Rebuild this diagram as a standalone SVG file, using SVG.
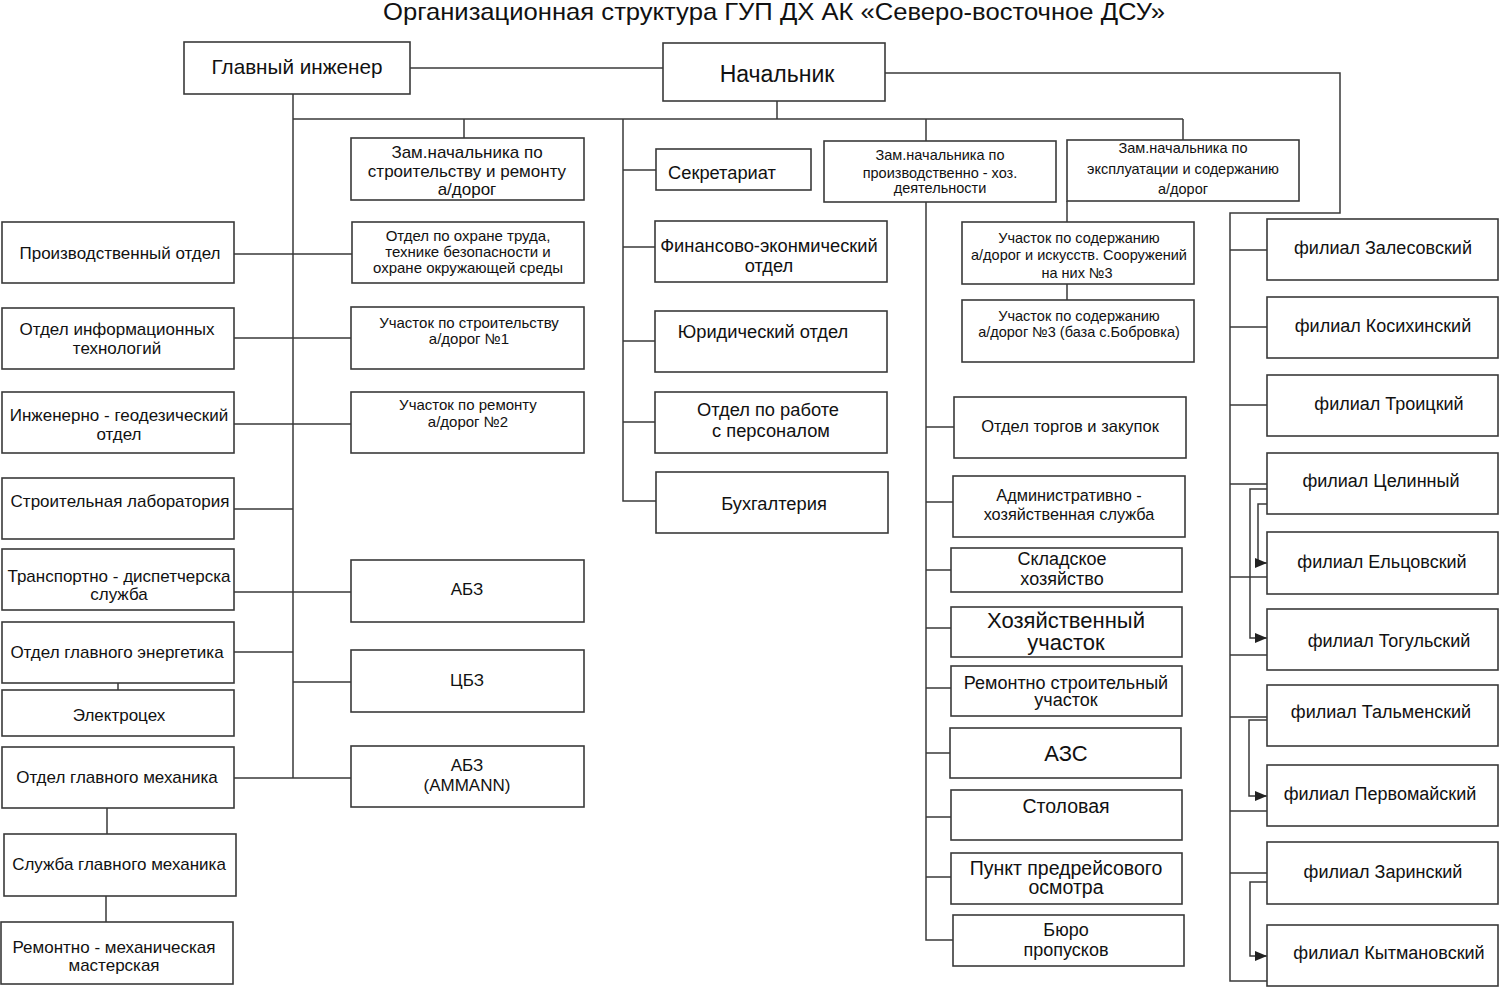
<svg xmlns="http://www.w3.org/2000/svg" width="1500" height="987" viewBox="0 0 1500 987">
<defs>
<style>
.box{fill:#fff;stroke:#3a3a3a;stroke-width:1.6}
.ln{fill:none;stroke:#3a3a3a;stroke-width:1.5}
text{font-family:"Liberation Sans",Arial,sans-serif;fill:#111;text-anchor:middle}
.f145{font-size:14.5px}.f15{font-size:15px}.f163{font-size:16.3px}.f165{font-size:16.5px}
.f17{font-size:17px}.f18{font-size:18px}.f183{font-size:18.3px}.f195{font-size:19.5px}.f22{font-size:22px}
</style>
<marker id="arr" viewBox="0 0 12 10" refX="12" refY="5" markerWidth="12" markerHeight="10" markerUnits="userSpaceOnUse" orient="auto">
<path d="M0,0 L12,5 L0,10 z" fill="#222"/>
</marker>
</defs>
<rect width="1500" height="987" fill="#fff"/>
<text x="774" y="20" style="font-size:24px" textLength="782" lengthAdjust="spacingAndGlyphs">Организационная структура ГУП ДХ АК «Северо-восточное ДСУ»</text>

<g id="connectors">
<path class="ln" d="M410,68 H663"/>
<path class="ln" d="M885,73 H1340 V213 H1230 V981 H1267"/>
<path class="ln" d="M1230,250 H1267 M1230,327 H1267 M1230,405 H1267 M1230,484 H1267 M1230,577 H1267 M1230,655 H1267 M1230,717 H1267 M1230,811 H1267 M1230,873 H1267"/>
<path class="ln" d="M1267,489 H1250 V638 H1267" marker-end="url(#arr)"/>
<path class="ln" d="M1267,504 H1258 V563 H1267" marker-end="url(#arr)"/>
<path class="ln" d="M1267,720 H1249 V796 H1267" marker-end="url(#arr)"/>
<path class="ln" d="M1267,882 H1250 V956 H1267" marker-end="url(#arr)"/>
<path class="ln" d="M777,101 V119 M293,119 H1183 M293,94 V778"/>
<path class="ln" d="M464,119 V138 M926,119 V141 M1183,119 V140"/>
<path class="ln" d="M623,119 V501 H656 M623,170 H656 M623,247 H655 M623,341 H655 M623,422 H655"/>
<path class="ln" d="M926,202 V940 H953 M926,427 H954 M926,502 H953 M926,570 H951 M926,628 H951 M926,688 H951 M926,753 H950 M926,817 H951 M926,877 H951"/>
<path class="ln" d="M1067,201 V222 M1067,284 V300"/>
<path class="ln" d="M234,254 H352 M234,338 H351 M234,424 H351 M234,592 H351 M234,778 H351 M234,509 H293 M234,652 H293 M293,682 H351"/>
<path class="ln" d="M118,683 V690 M107,808 V834 M106,896 V922"/>
</g>

<g id="n_gi"><rect class="box" x="184" y="42" width="226" height="52"/><text style="font-size:20.7px" x="297" y="74">Главный инженер</text></g>
<g id="n_nach"><rect class="box" x="663" y="43" width="222" height="58"/><text style="font-size:23px" x="777" y="82">Начальник</text></g>

<g id="n_zam_str"><rect class="box" x="351" y="138" width="233" height="62"/><text class="f17"><tspan x="467" y="158">Зам.начальника по</tspan><tspan x="467" y="177">строительству и ремонту</tspan><tspan x="467" y="195">а/дорог</tspan></text></g>
<g id="n_ohrana"><rect class="box" x="352" y="222" width="232" height="61"/><text class="f15"><tspan x="468" y="241">Отдел по охране труда,</tspan><tspan x="468" y="257">технике безопасности и</tspan><tspan x="468" y="273">охране окружающей среды</tspan></text></g>
<g id="n_uch1"><rect class="box" x="351" y="307" width="233" height="62"/><text class="f15"><tspan x="469" y="328">Участок по строительству</tspan><tspan x="469" y="344">а/дорог №1</tspan></text></g>
<g id="n_uch2"><rect class="box" x="351" y="392" width="233" height="61"/><text class="f15"><tspan x="468" y="410">Участок по ремонту</tspan><tspan x="468" y="427">а/дорог №2</tspan></text></g>
<g id="n_abz"><rect class="box" x="351" y="560" width="233" height="62"/><text class="f17" x="467" y="595">АБЗ</text></g>
<g id="n_cbz"><rect class="box" x="351" y="650" width="233" height="62"/><text class="f17" x="467" y="686">ЦБЗ</text></g>
<g id="n_abz2"><rect class="box" x="351" y="746" width="233" height="61"/><text class="f17"><tspan x="467" y="771">АБЗ</tspan><tspan x="467" y="791">(AMMANN)</tspan></text></g>

<g id="n_prod"><rect class="box" x="2" y="222" width="232" height="61"/><text class="f17" x="120" y="259">Производственный отдел</text></g>
<g id="n_it"><rect class="box" x="2" y="308" width="232" height="61"/><text class="f17"><tspan x="117" y="335">Отдел информационных</tspan><tspan x="117" y="354">технологий</tspan></text></g>
<g id="n_geo"><rect class="box" x="2" y="392" width="232" height="61"/><text class="f17"><tspan x="119" y="421">Инженерно - геодезический</tspan><tspan x="119" y="440">отдел</tspan></text></g>
<g id="n_lab"><rect class="box" x="2" y="478" width="232" height="61"/><text class="f17" x="120" y="507">Строительная лаборатория</text></g>
<g id="n_trans"><rect class="box" x="2" y="549" width="232" height="61"/><text class="f17"><tspan x="119" y="582">Транспортно - диспетчерска</tspan><tspan x="119" y="600">служба</tspan></text></g>
<g id="n_energ"><rect class="box" x="2" y="622" width="232" height="61"/><text class="f17" x="117" y="658">Отдел главного энергетика</text></g>
<g id="n_elec"><rect class="box" x="2" y="690" width="232" height="46"/><text class="f17" x="119" y="721">Электроцех</text></g>
<g id="n_meh"><rect class="box" x="2" y="747" width="232" height="61"/><text class="f17" x="117" y="783">Отдел главного механика</text></g>
<g id="n_sluzh"><rect class="box" x="4" y="834" width="232" height="62"/><text class="f17" x="119" y="870">Служба главного механика</text></g>
<g id="n_rem"><rect class="box" x="1" y="922" width="232" height="62"/><text class="f17"><tspan x="114" y="953">Ремонтно - механическая</tspan><tspan x="114" y="971">мастерская</tspan></text></g>

<g id="n_sekr"><rect class="box" x="656" y="149" width="155" height="41"/><text class="f183" x="722" y="179">Секретариат</text></g>
<g id="n_fin"><rect class="box" x="655" y="221" width="232" height="61"/><text class="f183"><tspan x="769" y="252">Финансово-эконмический</tspan><tspan x="769" y="272">отдел</tspan></text></g>
<g id="n_yur"><rect class="box" x="655" y="311" width="232" height="61"/><text class="f183" x="763" y="338">Юридический отдел</text></g>
<g id="n_kadr"><rect class="box" x="655" y="392" width="232" height="61"/><text class="f183"><tspan x="768" y="416">Отдел по работе</tspan><tspan x="771" y="437">с персоналом</tspan></text></g>
<g id="n_buh"><rect class="box" x="656" y="472" width="232" height="61"/><text class="f183" x="774" y="510">Бухгалтерия</text></g>

<g id="n_zam_proizv"><rect class="box" x="824" y="141" width="232" height="61"/><text class="f145"><tspan x="940" y="160">Зам.начальника по</tspan><tspan x="940" y="178">производственно - хоз.</tspan><tspan x="940" y="193">деятельности</tspan></text></g>
<g id="n_zam_expl"><rect class="box" x="1067" y="140" width="232" height="61"/><text class="f145"><tspan x="1183" y="153">Зам.начальника по</tspan><tspan x="1183" y="174">эксплуатации и содержанию</tspan><tspan x="1183" y="194">а/дорог</tspan></text></g>
<g id="n_uch_sod"><rect class="box" x="962" y="222" width="232" height="62"/><text class="f145"><tspan x="1079" y="243">Участок по содержанию</tspan><tspan x="1079" y="260">а/дорог и искусств. Сооружений</tspan><tspan x="1077" y="278">на них №3</tspan></text></g>
<g id="n_uch_bobr"><rect class="box" x="962" y="300" width="232" height="62"/><text class="f145"><tspan x="1079" y="321">Участок по содержанию</tspan><tspan x="1079" y="337">а/дорог №3 (база с.Бобровка)</tspan></text></g>

<g id="n_torg"><rect class="box" x="954" y="397" width="232" height="61"/><text class="f165" x="1070" y="432">Отдел торгов и закупок</text></g>
<g id="n_ahs"><rect class="box" x="953" y="476" width="232" height="61"/><text class="f163"><tspan x="1069" y="501">Административно -</tspan><tspan x="1069" y="520">хозяйственная служба</tspan></text></g>
<g id="n_sklad"><rect class="box" x="951" y="548" width="231" height="44"/><text class="f18"><tspan x="1062" y="565">Складское</tspan><tspan x="1062" y="585">хозяйство</tspan></text></g>
<g id="n_hoz"><rect class="box" x="951" y="607" width="231" height="50"/><text class="f22"><tspan x="1066" y="628">Хозяйственный</tspan><tspan x="1066" y="650">участок</tspan></text></g>
<g id="n_remstr"><rect class="box" x="951" y="666" width="231" height="50"/><text class="f18"><tspan x="1066" y="689">Ремонтно строительный</tspan><tspan x="1066" y="706">участок</tspan></text></g>
<g id="n_azs"><rect class="box" x="950" y="728" width="231" height="50"/><text class="f22" x="1066" y="761">АЗС</text></g>
<g id="n_stol"><rect class="box" x="951" y="790" width="231" height="50"/><text class="f195" x="1066" y="813">Столовая</text></g>
<g id="n_punkt"><rect class="box" x="951" y="853" width="231" height="51"/><text class="f195"><tspan x="1066" y="875">Пункт предрейсового</tspan><tspan x="1066" y="894">осмотра</tspan></text></g>
<g id="n_buro"><rect class="box" x="953" y="915" width="231" height="51"/><text class="f18"><tspan x="1066" y="936">Бюро</tspan><tspan x="1066" y="956">пропусков</tspan></text></g>

<g id="n_zal"><rect class="box" x="1267" y="219" width="231" height="61"/><text class="f18" x="1383" y="254">филиал Залесовский</text></g>
<g id="n_kos"><rect class="box" x="1267" y="297" width="231" height="61"/><text class="f18" x="1383" y="332">филиал Косихинский</text></g>
<g id="n_tro"><rect class="box" x="1267" y="375" width="231" height="61"/><text class="f18" x="1389" y="410">филиал Троицкий</text></g>
<g id="n_cel"><rect class="box" x="1267" y="453" width="231" height="61"/><text class="f18" x="1381" y="487">филиал Целинный</text></g>
<g id="n_elc"><rect class="box" x="1267" y="532" width="231" height="62"/><text class="f18" x="1382" y="568">филиал Ельцовский</text></g>
<g id="n_tog"><rect class="box" x="1267" y="609" width="231" height="61"/><text class="f18" x="1389" y="647">филиал Тогульский</text></g>
<g id="n_tal"><rect class="box" x="1267" y="685" width="231" height="61"/><text class="f18" x="1381" y="718">филиал Тальменский</text></g>
<g id="n_perv"><rect class="box" x="1267" y="765" width="231" height="61"/><text class="f18" x="1380" y="800">филиал Первомайский</text></g>
<g id="n_zar"><rect class="box" x="1267" y="842" width="231" height="62"/><text class="f18" x="1383" y="878">филиал Заринский</text></g>
<g id="n_kyt"><rect class="box" x="1267" y="925" width="231" height="61"/><text class="f18" x="1389" y="959">филиал Кытмановский</text></g>
</svg>
